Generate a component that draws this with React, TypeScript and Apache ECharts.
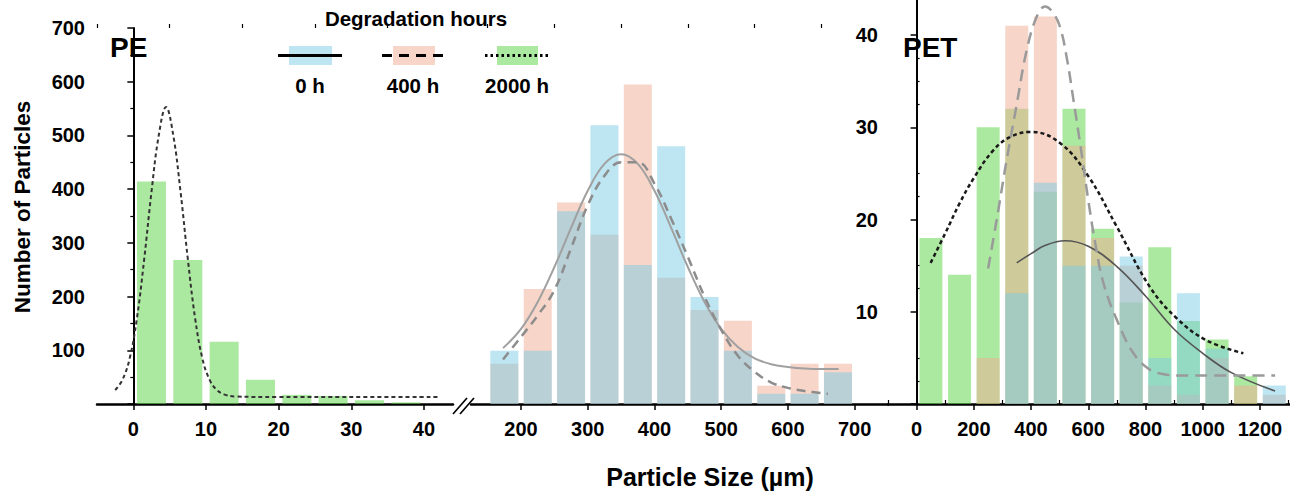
import React, { useEffect, useRef } from "react";
import * as echarts from "echarts";

// ---------- data ----------
const peSmallBins = [2.5, 7.5, 12.5, 17.5, 22.5, 27.5, 32.5, 37.5];
const peSmall2000h = [414, 268, 116, 45, 17, 15, 7, 3];

const peBins = [175, 225, 275, 325, 375, 425, 475, 525, 575, 625, 675];
const pe0h = [99, 99, 359, 519, 259, 480, 199, 99, 19, 19, 59];
const pe400h = [75, 214, 375, 315, 595, 235, 175, 155, 34, 75, 75];

const petBins = [50, 150, 250, 350, 450, 550, 650, 750, 850, 950, 1050, 1150, 1250];
const pet0h = [0, 0, 0, 12, 24, 15, 15, 16, 5, 12, 6, 0, 2];
const pet400h = [0, 0, 5, 41, 42, 28, 18, 15, 2, 1, 5, 2, 1];
const pet2000h = [18, 14, 30, 32, 23, 32, 19, 11, 17, 9, 7, 3, 0];

// fitted curves: [size, count]
const peFit2000h = [
  [-2.5, 26], [-1.5, 45], [-0.5, 85], [0.5, 160], [1.5, 270], [2.5, 395], [3.5, 500],
  [4.5, 553], [5.5, 500], [6.5, 395], [7.5, 270], [8.5, 160], [9.5, 85], [10.5, 45],
  [11.5, 26], [12.5, 18], [14, 14], [20, 13], [30, 13], [42, 13],
];
const peFit0h = [
  [173, 104], [200, 140], [225, 190], [250, 255], [275, 328], [300, 397], [325, 447],
  [350, 465], [375, 447], [400, 397], [425, 328], [450, 255], [475, 190], [500, 140],
  [525, 106], [550, 85], [575, 74], [600, 69], [625, 66], [650, 65], [676, 65],
];
const peFit400h = [
  [173, 83], [200, 125], [225, 165], [250, 212], [275, 290], [300, 370], [325, 425],
  [350, 450], [375, 450], [400, 410], [425, 345], [450, 274], [475, 200], [500, 138],
  [525, 90], [550, 60], [575, 40], [600, 30], [625, 24], [660, 19],
];
const petFit0h = [
  [350, 15.3], [400, 16.3], [450, 17.2], [518, 17.7], [600, 17.1], [700, 14.9],
  [800, 11.7], [900, 8.1], [1000, 5.5], [1100, 3.4], [1253, 1.4],
];
const petFit400h = [
  [250, 14.7], [280, 20], [315, 26.5], [350, 32.5], [385, 38.4], [420, 42], [449, 43.1],
  [475, 42.5], [501, 40.9], [525, 37.5], [548, 33], [575, 27.5], [600, 22.1], [625, 17.3],
  [653, 13.1], [700, 9.1], [758, 5.5], [816, 3.7], [870, 3.2], [909, 3.1], [1000, 3.1],
  [1253, 3.1],
];
const petFit2000h = [
  [49, 15.3], [100, 18.5], [151, 21.8], [200, 24.5], [268, 27.5], [330, 29], [400, 29.5],
  [501, 28.3], [600, 24.7], [700, 19.2], [815, 12.7], [909, 9.3], [1013, 6.9], [1142, 5.5],
];

const peSmallTicks = [0, 10, 20, 30, 40];
const peSmallMinor = [-5, 5, 15, 25, 35];
const peTicks = [200, 300, 400, 500, 600, 700];
const peMinor = [150, 250, 350, 450, 550, 650];
const petTicks = [0, 200, 400, 600, 800, 1000, 1200];
const petMinor = [-100, 100, 300, 500, 700, 900, 1100, 1300];
const petYTicks = [0, 10, 20, 30, 40];
const petYLabels = [10, 20, 30, 40];
const petYMinor = [2.5, 5, 12.5, 15, 22.5, 25, 32.5, 35, 37.5];

const BLUE = "rgba(123,203,229,0.5)";
const PINK = "rgba(239,171,147,0.5)";
const GREEN = "rgba(89,211,65,0.5)";
const FONT = "Liberation Sans";

const pairs = (xs: number[], ys: number[]) => xs.map((x, i) => [x, ys[i]]);

export default function App() {
  const ref = useRef<HTMLDivElement>(null);
  useEffect(() => {
    document.body.style.margin = "0";
    const chart = echarts.init(ref.current!, null, { renderer: "svg" });
    const axisLine = { show: true, lineStyle: { color: "#000", width: 2.5 } };
    const labelStyle = { color: "#000", fontFamily: FONT, fontWeight: "bold", fontSize: 20 };
    const plain = (v: number) => String(v);
    const majorX = (grid: number, min: number, max: number, ticks: number[]) => ({
      type: "value", gridIndex: grid, min, max,
      axisLine, splitLine: { show: false },
      axisTick: { show: true, length: 6, customValues: ticks, lineStyle: { color: "#000", width: 1.5 } },
      axisLabel: { ...labelStyle, margin: 15, customValues: ticks, formatter: plain },
    });
    const minorX = (grid: number, min: number, max: number, ticks: number[]) => ({
      type: "value", gridIndex: grid, min, max,
      axisLine: { show: false }, splitLine: { show: false },
      axisTick: { show: true, length: 4, customValues: ticks, lineStyle: { color: "#000", width: 1.2 } },
      axisLabel: { show: false },
    });
    const line = (xi: number, yi: number, data: number[][], color: string, width: number, dash: any) => ({
      type: "line", xAxisIndex: xi, yAxisIndex: yi, data, smooth: 0.4, symbol: "none",
      lineStyle: { color, width, type: dash }, z: 5, silent: true,
    });
    const bar = (xi: number, yi: number, data: number[][], color: string, w: number) => ({
      type: "bar", xAxisIndex: xi, yAxisIndex: yi, data, barWidth: w, barGap: "-100%",
      itemStyle: { color }, silent: true,
    });
    const txt = (x: number, y: number, text: string, size: number, align = "center", rotation = 0) => ({
      type: "text", x, y, rotation,
      style: { text, font: `bold ${size}px "${FONT}"`, fill: "#000", textAlign: align, textVerticalAlign: "middle" },
    });
    const option: any = {
      animation: false,
      grid: [
        { left: 97, top: 28, width: 356, height: 376, outerBoundsMode: "none" },
        { left: 471, top: 28, width: 417, height: 376, outerBoundsMode: "none" },
        { left: 888, top: 0, width: 402, height: 404, outerBoundsMode: "none" },
      ],
      xAxis: [
        majorX(0, -5, 44, peSmallTicks),
        majorX(1, 125, 750, peTicks),
        majorX(2, -100, 1305, petTicks),
        minorX(0, -5, 44, peSmallMinor),
        minorX(1, 125, 750, peMinor),
        minorX(2, -100, 1305, petMinor),
      ],
      yAxis: [
        {
          type: "value", gridIndex: 0, min: 0, max: 700, interval: 100,
          axisLine: { show: true, lineStyle: { color: "#000", width: 2 } },
          splitLine: { show: false },
          axisTick: { show: true, length: 6, lineStyle: { color: "#000", width: 1.5 } },
          minorTick: { show: true, splitNumber: 2, length: 3, lineStyle: { color: "#000", width: 1.2 } },
          axisLabel: { ...labelStyle, margin: 12, formatter: (v: number) => (v === 0 ? "" : String(v)) },
        },
        { type: "value", gridIndex: 1, min: 0, max: 700, show: false },
        {
          type: "value", gridIndex: 2, min: 0, max: 43.8,
          axisLine: { show: true, lineStyle: { color: "#000", width: 2 } },
          splitLine: { show: false },
          axisTick: { show: true, length: 6, customValues: petYTicks, lineStyle: { color: "#000", width: 1.5 } },
          axisLabel: { ...labelStyle, margin: 10, customValues: petYLabels, formatter: plain },
        },
        {
          type: "value", gridIndex: 2, min: 0, max: 43.8,
          axisLine: { show: false }, splitLine: { show: false },
          axisTick: { show: true, length: 3, customValues: petYMinor, lineStyle: { color: "#000", width: 1.2 } },
          axisLabel: { show: false },
        },
      ],
      series: [
        bar(0, 0, pairs(peSmallBins, peSmall2000h), GREEN, 29),
        bar(1, 1, pairs(peBins, pe400h), PINK, 28),
        bar(1, 1, pairs(peBins, pe0h), BLUE, 28),
        bar(2, 2, pairs(petBins, pet2000h), GREEN, 23),
        bar(2, 2, pairs(petBins, pet400h), PINK, 23),
        bar(2, 2, pairs(petBins, pet0h), BLUE, 23),
        line(0, 0, peFit2000h, "#333", 2, [4, 3]),
        line(1, 1, peFit0h, "#a0a0a0", 2, "solid"),
        line(1, 1, peFit400h, "#8c8c8c", 2.5, [9, 6]),
        line(2, 2, petFit2000h, "#1a1a1a", 2.5, [4, 3]),
        line(2, 2, petFit0h, "#555", 1.6, "solid"),
        line(2, 2, petFit400h, "#9a9a9a", 2.5, [12, 7]),
      ],
      graphic: [
        { type: "line", shape: { x1: 453, y1: 414, x2: 467, y2: 398 }, style: { stroke: "#000", lineWidth: 1.6 } },
        { type: "line", shape: { x1: 460, y1: 414, x2: 474, y2: 398 }, style: { stroke: "#000", lineWidth: 1.6 } },
        txt(110, 47, "PE", 28, "left"),
        txt(903, 47, "PET", 28, "left"),
        txt(22, 207, "Number of Particles", 22.5, "center", Math.PI / 2),
        txt(710, 477, "Particle Size (µm)", 25),
        txt(416, 18, "Degradation hours", 20.5),
        { type: "rect", shape: { x: 289, y: 46, width: 43, height: 19 }, style: { fill: "#bde5f2" } },
        { type: "line", shape: { x1: 278, y1: 55.5, x2: 342, y2: 55.5 }, style: { stroke: "#000", lineWidth: 3 } },
        { type: "rect", shape: { x: 393, y: 46, width: 42, height: 19 }, style: { fill: "#f7d5c9" } },
        { type: "line", shape: { x1: 382, y1: 55.5, x2: 444, y2: 55.5 }, style: { stroke: "#000", lineWidth: 3, lineDash: [10, 7] } },
        { type: "rect", shape: { x: 497, y: 46, width: 41, height: 19 }, style: { fill: "#ace9a0" } },
        { type: "line", shape: { x1: 485, y1: 55.5, x2: 551, y2: 55.5 }, style: { stroke: "#000", lineWidth: 3, lineDash: [2.5, 3] } },
        txt(310, 85, "0 h", 20.5),
        txt(413, 85, "400 h", 20.5),
        txt(517, 85, "2000 h", 20.5),
      ],
    };
    chart.setOption(option);
    return () => chart.dispose();
  }, []);
  return <div ref={ref} style={{ width: 1290, height: 493 }} />;
}
